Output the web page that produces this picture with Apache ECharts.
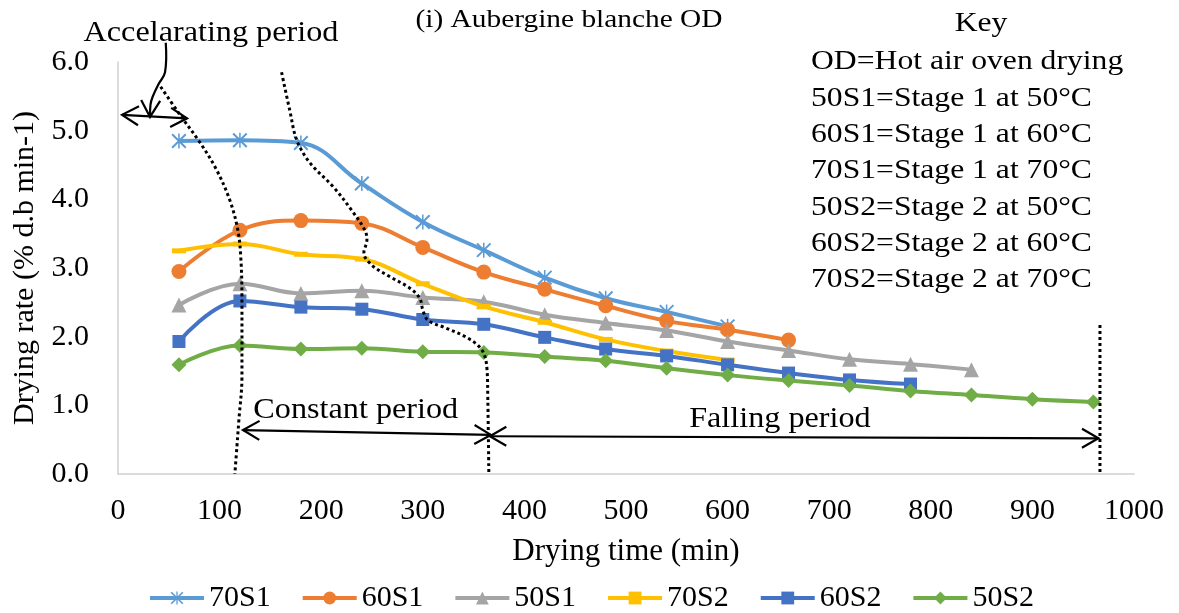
<!DOCTYPE html>
<html>
<head>
<meta charset="utf-8">
<script src="https://cdn.jsdelivr.net/npm/echarts@6/dist/echarts.min.js"></script>
<style>
  html, body { margin: 0; padding: 0; background: #fff; }
  #chart { width: 1179px; height: 613px; }
</style>
</head>
<body>
<div id="chart"></div>
<script>
const FONT = "'Liberation Serif', 'Times New Roman', serif";

// Drying time (min) at each measurement
const dryingTime = [60, 120, 180, 240, 300, 360, 420, 480, 540, 600, 660, 720, 780, 840, 900, 960];

// Drying rate (% d.b min-1) per treatment
const rate70S1 = [4.85, 4.86, 4.82, 4.23, 3.67, 3.26, 2.86, 2.56, 2.36, 2.15];
const rate60S1 = [2.95, 3.55, 3.69, 3.65, 3.30, 2.94, 2.69, 2.45, 2.23, 2.10, 1.95];
const rate50S1 = [2.46, 2.77, 2.63, 2.67, 2.57, 2.51, 2.32, 2.20, 2.09, 1.93, 1.80, 1.67, 1.60, 1.52];
const rate70S2 = [3.25, 3.35, 3.20, 3.13, 2.77, 2.44, 2.21, 1.96, 1.79, 1.66];
const rate60S2 = [1.93, 2.52, 2.43, 2.40, 2.25, 2.18, 1.99, 1.82, 1.72, 1.59, 1.47, 1.37, 1.31];
const rate50S2 = [1.59, 1.87, 1.82, 1.83, 1.78, 1.77, 1.71, 1.65, 1.54, 1.44, 1.36, 1.29, 1.21, 1.15, 1.09, 1.05];

const seriesNames = ['70S1', '60S1', '50S1', '70S2', '60S2', '50S2'];
const seriesRates = [rate70S1, rate60S1, rate50S1, rate70S2, rate60S2, rate50S2];
const seriesColors = ['#5B9BD5', '#ED7D31', '#A5A5A5', '#FFC000', '#4472C4', '#70AD47'];

// Period boundaries, in (time, rate) units
const boundaryAccel = [[42, 5.64], [61, 5.23], [81, 4.82], [97, 4.43], [110, 3.99], [118, 3.55],
  [121, 3.12], [122, 2.53], [122, 1.41], [119, 0.79], [117, 0.39], [115, 0]];
const boundaryConst = [[161, 5.85], [169, 5.30], [176, 4.86], [189, 4.53], [212, 4.18], [230, 3.84],
  [243, 3.55], [245, 3.41], [242, 3.22], [250, 3.04], [268, 2.87], [287, 2.71], [297, 2.56],
  [300, 2.39], [305, 2.24], [322, 2.13], [343, 1.99], [358, 1.81], [363, 1.56], [364, 1.08], [365, 0]];
const boundaryEnd = [[966.5, 2.17], [966.5, 0]];

// Period arrows and labels, in (time, rate) units
const accelSpan = [[4, 5.23], [68, 5.18]];
const constSpan = [[123, 0.64], [367, 0.57]];
const fallSpan = [[366, 0.55], [965, 0.52]];
const accelPointer = [[47, 6.28], [46.3, 5.85], [40, 5.68], [34, 5.49], [32, 5.38], [31.5, 5.20]];
const periodLabels = [
  { text: 'Accelarating period', at: [91.5, 6.42] },
  { text: 'Constant period', at: [234, 0.93] },
  { text: 'Falling period', at: [651.5, 0.79] }
];

const chartTitle = '(i) Aubergine blanche OD';
const keyTitle = 'Key';
const keyLines = [
  'OD=Hot air oven drying',
  '50S1=Stage 1 at 50°C',
  '60S1=Stage 1 at 60°C',
  '70S1=Stage 1 at 70°C',
  '50S2=Stage 2 at 50°C',
  '60S2=Stage 2 at 60°C',
  '70S2=Stage 2 at 70°C'
];

// asterisk marker: vertical bar plus two diagonals
const STAR = 'path://M9,0 L11,0 L11,20 L9,20 Z M1.9,0.1 L19.9,18.1 L18.1,19.9 L0.1,1.9 Z M18.1,0.1 L19.9,1.9 L1.9,19.9 L0.1,18.1 Z';
const markers = [
  { symbol: STAR, size: 15 },
  { symbol: 'circle', size: 15 },
  { symbol: 'triangle', size: 15 },
  { symbol: 'rect', size: [14, 5] },
  { symbol: 'rect', size: 13 },
  { symbol: 'diamond', size: 15 }
];

// wide serif text used for the free-standing labels
const TEXT_STRETCH = 1.13;

const chart = echarts.init(document.getElementById('chart'), null, { renderer: 'canvas' });

const dataSeries = seriesNames.map((name, i) => ({
  name,
  type: 'line',
  smooth: 0.4,
  data: seriesRates[i].map((v, k) => [dryingTime[k], v]),
  symbol: markers[i].symbol,
  symbolSize: markers[i].size,
  showAllSymbol: true,
  lineStyle: { color: seriesColors[i], width: 4 },
  itemStyle: { color: seriesColors[i], borderWidth: 0 },
  z: 3 + i
}));

const boundarySeries = [boundaryAccel, boundaryConst, boundaryEnd].map((pts, i) => ({
  name: 'boundary' + i,
  type: 'line',
  data: pts,
  smooth: i < 2 ? 0.35 : false,
  symbol: 'none',
  silent: true,
  clip: false,
  lineStyle: { color: '#000', width: 3, type: [3, 3] },
  z: 10
}));

chart.setOption({
  animation: false,
  backgroundColor: '#fff',
  textStyle: { fontFamily: FONT },
  grid: { left: 118, right: 45, top: 62, bottom: 139, containLabel: false },
  legend: {
    data: seriesNames,
    left: 148,
    top: 583,
    padding: 0,
    itemWidth: 54,
    itemHeight: 16,
    itemGap: 30,
    lineStyle: { width: 4 },
    textStyle: { fontFamily: FONT, fontSize: 30, color: '#000' }
  },
  xAxis: {
    type: 'value',
    min: 0,
    max: 1000,
    interval: 100,
    name: 'Drying time (min)',
    nameLocation: 'middle',
    nameGap: 62,
    nameTextStyle: { fontFamily: FONT, fontSize: 31, color: '#000' },
    axisLine: { show: true, lineStyle: { color: '#D0D0D0', width: 1.5 } },
    axisTick: { show: false },
    splitLine: { show: false },
    axisLabel: { fontFamily: FONT, fontSize: 30, color: '#000', margin: 22, formatter: v => String(v) }
  },
  yAxis: {
    type: 'value',
    min: 0,
    max: 6,
    interval: 1,
    name: 'Drying rate (% d.b min-1)',
    nameLocation: 'middle',
    nameGap: 78,
    nameTextStyle: { fontFamily: FONT, fontSize: 30, color: '#000' },
    axisLine: { show: true, lineStyle: { color: '#D0D0D0', width: 1.5 } },
    axisTick: { show: false },
    splitLine: { show: false },
    axisLabel: { fontFamily: FONT, fontSize: 30, color: '#000', margin: 29, formatter: v => v.toFixed(1) }
  },
  series: dataSeries.concat(boundarySeries)
});

// ---- annotation overlay (arrows, period labels, title, key) ----
const toPx = p => chart.convertToPixel({ xAxisIndex: 0, yAxisIndex: 0 }, p);

function arrowHead(tip, from, len, ang) {
  const dx = from[0] - tip[0], dy = from[1] - tip[1];
  const d = Math.hypot(dx, dy);
  const ux = dx / d, uy = dy / d;
  const arm = s => [
    tip[0] + len * (ux * Math.cos(s * ang) - uy * Math.sin(s * ang)),
    tip[1] + len * (ux * Math.sin(s * ang) + uy * Math.cos(s * ang))
  ];
  return {
    type: 'polyline',
    shape: { points: [arm(1), tip, arm(-1)] },
    style: { stroke: '#000', lineWidth: 2.2, fill: null },
    z: 20
  };
}

function doubleArrow(span) {
  const a = toPx(span[0]), b = toPx(span[1]);
  return [
    { type: 'line', shape: { x1: a[0], y1: a[1], x2: b[0], y2: b[1] }, style: { stroke: '#000', lineWidth: 2.2 }, z: 20 },
    arrowHead(a, b, 19, Math.PI / 6),
    arrowHead(b, a, 19, Math.PI / 6)
  ];
}

function label(text, x, y, size, align) {
  return {
    type: 'text', x, y, z: 21, scaleX: TEXT_STRETCH, scaleY: 1,
    style: { text, fontFamily: FONT, fontSize: size, fill: '#000', align, verticalAlign: 'middle' }
  };
}

const graphics = [];
[accelSpan, constSpan, fallSpan].forEach(s => graphics.push(...doubleArrow(s)));

const pointerPts = accelPointer.map(toPx);
graphics.push({
  type: 'polyline',
  shape: { points: pointerPts, smooth: 0.4 },
  style: { stroke: '#000', lineWidth: 2.2, fill: null },
  z: 20
});
graphics.push(arrowHead(pointerPts[pointerPts.length - 1], pointerPts[pointerPts.length - 2], 19, Math.PI / 6));

periodLabels.forEach(l => {
  const p = toPx(l.at);
  graphics.push(label(l.text, p[0], p[1], 28.5, 'center'));
});

graphics.push(label(chartTitle, 569, 20, 26, 'center'));
graphics.push(label(keyTitle, 981, 24, 28, 'center'));
keyLines.forEach((t, i) => graphics.push(label(t, 811, 62 + i * 36.3, 28, 'left')));

chart.setOption({ graphic: graphics });
</script>
</body>
</html>
